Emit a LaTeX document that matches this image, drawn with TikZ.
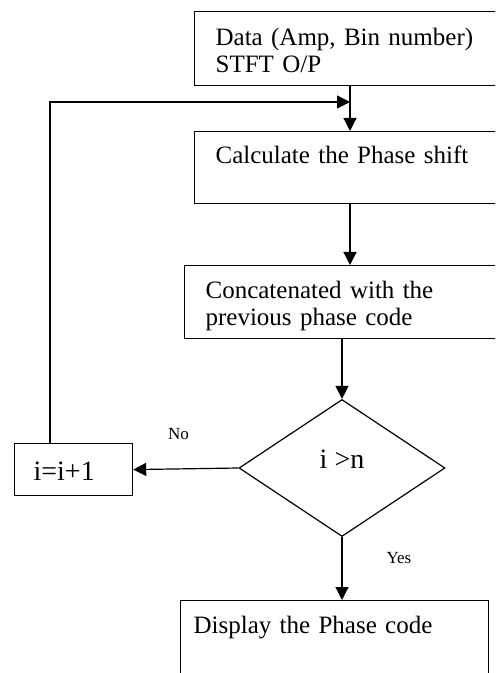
\documentclass[tikz,border=0pt]{standalone}
\usepackage{fontspec}
\setmainfont{Liberation Serif}
\usetikzlibrary{arrows.meta, positioning, calc, shapes.geometric}

\begin{document}
\begin{tikzpicture}[
    x=0.5pt, y=-0.5pt,
    kotak/.style={draw, line width=0.6pt, anchor=north west, align=left, inner xsep=10.5pt,
                  inner ysep=0pt, font=\fontsize{12.5}{13.5}\selectfont},
    belah/.style={draw, diamond, line width=0.6pt, inner sep=0pt, minimum width=103pt,
                  minimum height=68.5pt, font=\fontsize{14}{16}\selectfont},
    panah/.style={-{Triangle[length=6.5pt, width=6.5pt]}, line width=0.6pt},
    ket/.style={inner sep=0pt, font=\fontsize{8.5}{10}\selectfont}
  ]
    \useasboundingbox (0,0) rectangle (495,673);
    \clip (0,0) rectangle (495,673);
    \node[kotak, text width=142pt, minimum height=37pt, text height=10.75pt, text depth=13.75pt]
      (data) at (194,11) {Data (Amp, Bin number)\\STFT O/P};
    \node[kotak, text width=142pt, minimum height=36pt, text height=9pt, text depth=13pt]
      (phase) at (194,131) {Calculate the Phase shift};
    \node[kotak, text width=147pt, minimum height=36.5pt, text height=12.5pt, text depth=16pt]
      (concat) at (184,265) {Concatenated with the\\previous phase code};
    \node[belah, text height=7pt, text depth=7pt] (cek) at (342,468) {i >n};
    \node[kotak, inner xsep=9.5pt, text width=40pt, minimum height=26pt, text height=11pt,
          text depth=0pt, font=\fontsize{14}{16}\selectfont] (inc) at (14,443) {i=i+1};
    \node[kotak, inner xsep=6.5pt, text width=141pt, minimum height=50pt, text height=9pt, text depth=26pt]
      (disp) at (180,600) {Display the Phase code};
    \coordinate (gabung) at (350,102);
    \coordinate (balik) at (50,102);
    \draw[panah] (data.south -| gabung) -- (phase.north -| gabung);
    \draw[panah] (inc.north -| balik) -- (balik) -- (gabung);
    \draw[panah] (phase.south -| gabung) -- (concat.north -| gabung);
    \draw[panah] (concat.south -| cek.north) -- (cek.north);
    \draw[panah] (cek.west) -- node[ket, pos=0.57, above=14.5pt] (no) {No} (inc.east);
    \draw[panah] (cek.south) -- node[ket, pos=0.325, right=22pt] (yes) {Yes} (cek.south |- disp.north);
  \end{tikzpicture}
\end{document}
